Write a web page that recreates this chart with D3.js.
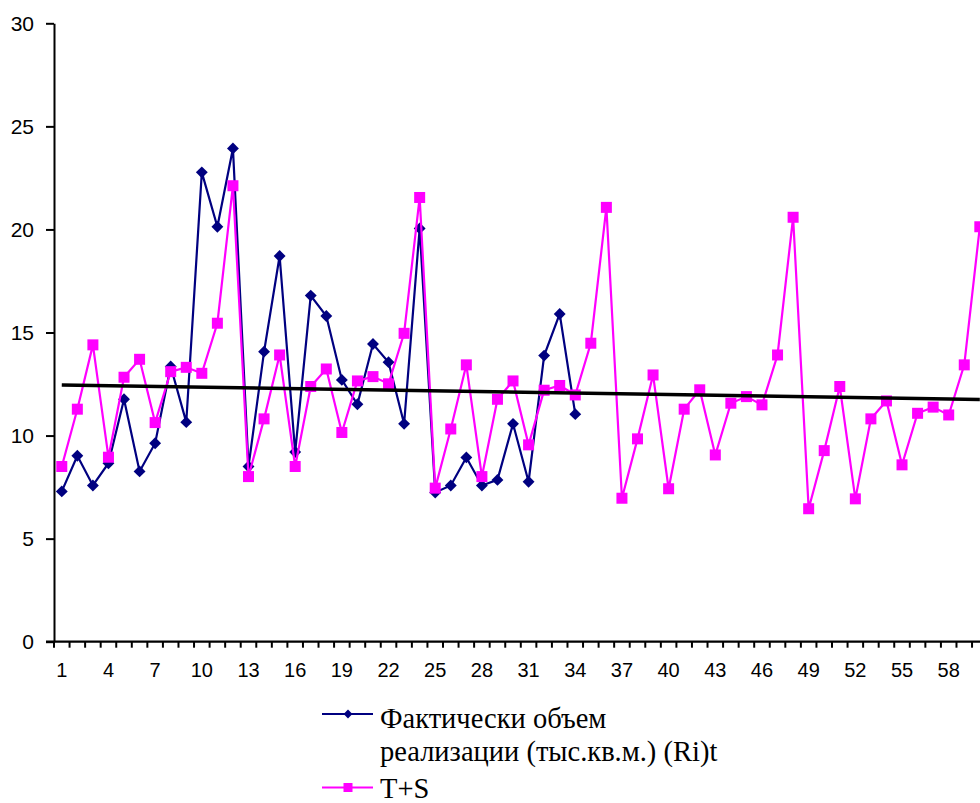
<!DOCTYPE html>
<html>
<head>
<meta charset="utf-8">
<script src="https://cdn.jsdelivr.net/npm/d3@7"></script>
<style>
  html, body { margin: 0; padding: 0; background: #fff; }
  svg { display: block; overflow: hidden; }
</style>
</head>
<body>
<svg id="chart" width="980" height="803"></svg>
<script>
// ---- data ----
const categories = d3.range(1, 61);
const actualValues = [7.29, 9.02, 7.58, 8.66, 11.76, 8.26, 9.63, 13.35, 10.65, 22.77,
  20.13, 23.93, 8.50, 14.07, 18.71, 9.20, 16.79, 15.80, 12.70, 11.52,
  14.44, 13.56, 10.57, 20.05, 7.24, 7.58, 8.94, 7.58, 7.85, 10.57,
  7.76, 13.88, 15.90, 11.04];
const tsValues = [8.50, 11.28, 14.40, 8.95, 12.83, 13.70, 10.63, 13.10, 13.31, 13.02,
  15.45, 22.12, 8.01, 10.81, 13.91, 8.50, 12.38, 13.23, 10.15, 12.65,
  12.86, 12.51, 14.96, 21.55, 7.45, 10.32, 13.43, 8.01, 11.76, 12.65,
  9.55, 12.20, 12.43, 11.97, 14.48, 21.07, 6.96, 9.84, 12.94, 7.42,
  11.28, 12.22, 9.06, 11.57, 11.89, 11.49, 13.91, 20.59, 6.45, 9.27,
  12.38, 6.93, 10.81, 11.68, 8.58, 11.08, 11.38, 11.00, 13.43, 20.13];
const trendCategories = [1, 60];
const trendValues = [12.45, 11.75];
const yTicks = [0, 5, 10, 15, 20, 25, 30];
const xTickLabels = categories.filter((d, i) => i % 3 === 0);
const legendLabels = [["Фактически объем", "реализации (тыс.кв.м.) (Ri)t"], ["T+S"]];

// ---- layout ----
const svg = d3.select("#chart");
const plotLeft = 54, plotRight = 987.6, plotTop = 23.3, plotBottom = 641.7;

const x = d3.scaleBand().domain(categories).range([plotLeft, plotRight]).padding(0);
const cx = d => x(d) + x.bandwidth() / 2;
const y = d3.scaleLinear().domain([0, 30]).range([plotBottom, plotTop]);

// y axis
const yAxis = svg.append("g")
  .attr("transform", `translate(${plotLeft},0)`)
  .call(d3.axisLeft(y).tickValues(yTicks).tickSize(8).tickPadding(12).tickSizeOuter(0));
yAxis.select(".domain").attr("stroke", "#000").attr("stroke-width", 2);
yAxis.selectAll(".tick line").attr("stroke", "#000").attr("stroke-width", 2);
yAxis.selectAll("text")
  .style("font-family", "Liberation Sans").style("font-size", "21px").attr("fill", "#000");

// x axis: tick marks at category boundaries
const boundaries = categories.map(d => x(d)).concat([plotRight]);
const xg = svg.append("g");
xg.selectAll("line.bt").data(boundaries).join("line")
  .attr("class", "bt")
  .attr("x1", d => d).attr("x2", d => d)
  .attr("y1", plotBottom).attr("y2", plotBottom + 6)
  .attr("stroke", "#000").attr("stroke-width", 2);
xg.append("line")
  .attr("x1", plotLeft - 8).attr("x2", plotRight)
  .attr("y1", plotBottom).attr("y2", plotBottom)
  .attr("stroke", "#000").attr("stroke-width", 2.2);
const xAxis = svg.append("g")
  .attr("transform", `translate(0,${plotBottom})`)
  .call(d3.axisBottom(x).tickValues(xTickLabels).tickSize(0).tickPadding(21));
xAxis.select(".domain").remove();
xAxis.selectAll("text")
  .style("font-family", "Liberation Sans").style("font-size", "20px").attr("fill", "#000");

// series
const lineGen = d3.line().x((d, i) => cx(categories[i])).y(d => y(d));
const navy = "#000080", pink = "#FF00FF";

svg.append("path").datum(actualValues)
  .attr("d", lineGen).attr("fill", "none").attr("stroke", navy).attr("stroke-width", 2.2);
const diamond = d3.symbol().type(d3.symbolDiamond2).size(90);
svg.append("g").selectAll("path").data(actualValues).join("path")
  .attr("d", diamond)
  .attr("transform", (d, i) => `translate(${cx(categories[i])},${y(d)})`)
  .attr("fill", navy);

svg.append("path").datum(tsValues)
  .attr("d", lineGen).attr("fill", "none").attr("stroke", pink).attr("stroke-width", 2.2);
svg.append("g").selectAll("rect").data(tsValues).join("rect")
  .attr("x", (d, i) => cx(categories[i]) - 5.5)
  .attr("y", d => y(d) - 5.5)
  .attr("width", 11).attr("height", 11)
  .attr("fill", pink);

// trend line
svg.append("path").datum(trendValues)
  .attr("d", d3.line().x((d, i) => cx(trendCategories[i])).y(d => y(d)))
  .attr("fill", "none").attr("stroke", "#000").attr("stroke-width", 3.5);

// legend
const lg = svg.append("g");
const legendY = [714, 787.5];
const legendBase = [[727.5, 761], [798]];
const legendColors = [navy, pink];
legendLabels.forEach((lines, i) => {
  const ly = legendY[i];
  lg.append("line").attr("x1", 322).attr("x2", 373).attr("y1", ly).attr("y2", ly)
    .attr("stroke", legendColors[i]).attr("stroke-width", 2.2);
  if (i === 0) {
    lg.append("path").attr("d", d3.symbol().type(d3.symbolDiamond2).size(50))
      .attr("transform", `translate(348,${ly})`).attr("fill", navy);
  } else {
    lg.append("rect").attr("x", 343.5).attr("y", ly - 4.5).attr("width", 9).attr("height", 9).attr("fill", pink);
  }
  lines.forEach((s, j) => {
    lg.append("text")
      .style("font-family", "Liberation Serif").style("font-size", "28.5px")
      .attr("fill", "#000")
      .attr("x", 380).attr("y", legendBase[i][j]).text(s);
  });
});
</script>
</body>
</html>
